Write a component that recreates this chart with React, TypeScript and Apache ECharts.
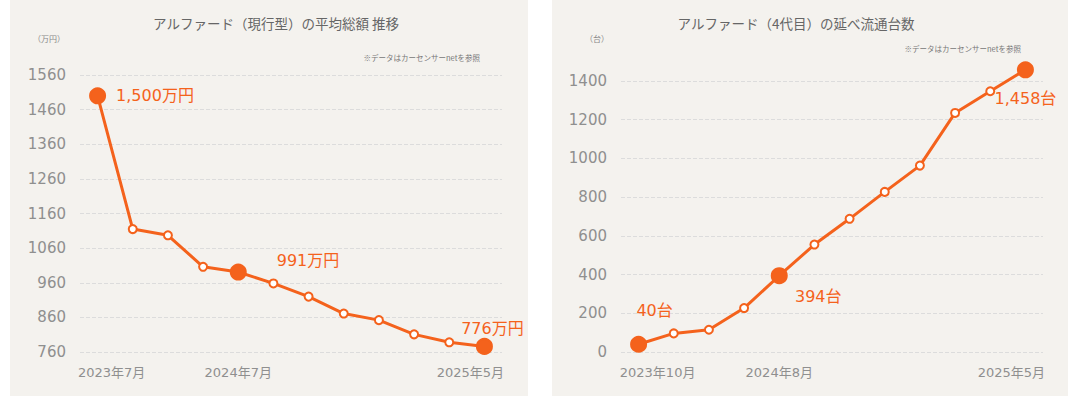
import React, { useEffect, useRef } from "react";
import * as echarts from "echarts";

// ---- Data ----
const priceCategories = [
  "2023年7月", "2023年10月", "2024年1月", "2024年4月", "2024年7月", "2024年8月",
  "2024年10月", "2024年12月", "2025年1月", "2025年3月", "2025年4月", "2025年5月",
];
const priceValues = [1500, 1115, 1097, 1006, 991, 958, 920, 871, 852, 811, 788, 776];
const priceHighlights = [0, 4, 11];
const priceHighlightLabels = ["1,500万円", "991万円", "776万円"];
const priceShownTicks = [0, 4, 11];
const priceAxisMin = 760;
const priceAxisMax = 1560;
const priceAxisStep = 100;

const countCategories = [
  "2023年10月", "2023年12月", "2024年2月", "2024年5月", "2024年8月", "2024年9月",
  "2024年10月", "2024年12月", "2025年1月", "2025年2月", "2025年4月", "2025年5月",
];
const countValues = [40, 96, 115, 227, 394, 555, 688, 827, 963, 1235, 1347, 1458];
const countHighlights = [0, 4, 11];
const countHighlightLabels = ["40台", "394台", "1,458台"];
const countShownTicks = [0, 4, 11];
const countAxisMax = 1400;
const countAxisStep = 200;

const ORANGE = "#f4621c";
const AXIS_TEXT = "#8f8f8f";
const FONT = '"DejaVu Sans", "Noto Sans CJK JP", sans-serif';
const JP_FONT = '"Noto Sans CJK JP", sans-serif';

const priceLabelStyles = [
  { position: "right", distance: 10 },
  { position: "right", distance: 30, offset: [0, -12] },
  { position: "top", distance: 1, offset: [8, 0] },
];
const countLabelStyles = [
  { position: "top", distance: 17, offset: [16, 0] },
  { position: "bottom", distance: 4, offset: [39, 0] },
  { position: "bottom", distance: 12, offset: [0, 0] },
];

function buildData(values: number[], highlights: number[], labels: string[], styles: any[]) {
  return values.map((v, i) => {
    const h = highlights.indexOf(i);
    if (h < 0) return v;
    return {
      value: v,
      symbolSize: 15,
      itemStyle: { color: ORANGE, borderColor: ORANGE },
      label: { show: true, formatter: labels[h], ...styles[h] },
    };
  });
}

function xAxisFor(gridIndex: number, data: string[], shown: number[], padFirst: number, padLast: number) {
  const last = data.length - 1;
  const base = { color: AXIS_TEXT, fontSize: 13, fontFamily: FONT };
  return {
    type: "category",
    gridIndex,
    data,
    boundaryGap: true,
    axisLine: { show: false },
    axisTick: { show: false },
    splitLine: { show: false },
    axisLabel: {
      ...base,
      margin: 14,
      interval: (index: number) => shown.includes(index),
      formatter: (value: string, index: number) =>
        index === 0 ? `{f|${value}}` : index === last ? `{l|${value}}` : `{m|${value}}`,
      rich: {
        f: { ...base, padding: [0, 0, 0, padFirst] },
        l: { ...base, padding: [0, padLast, 0, 0] },
        m: { ...base },
      },
    },
  };
}

const splitLine = { show: true, lineStyle: { color: "#dcdcdc", type: "dashed", width: 1 } };

export default function App() {
  const ref = useRef<HTMLDivElement>(null);
  useEffect(() => {
    if (!ref.current) return;
    const chart = echarts.init(ref.current, undefined, { renderer: "svg" });
    const seriesCommon = {
      type: "line",
      symbol: "circle",
      symbolSize: 8,
      showAllSymbol: true,
      lineStyle: { color: ORANGE, width: 3 },
      itemStyle: { color: "#ffffff", borderColor: ORANGE, borderWidth: 2 },
      label: { color: ORANGE, fontSize: 16, fontFamily: FONT },
      emphasis: { disabled: true },
      z: 3,
    };
    chart.setOption({
      animation: false,
      backgroundColor: "#ffffff",
      grid: [
        { left: 80, right: 578, top: 75, bottom: 44 },
        { left: 621, right: 37, top: 81, bottom: 44 },
      ],
      xAxis: [
        xAxisFor(0, priceCategories, priceShownTicks, 28, 28),
        xAxisFor(1, countCategories, countShownTicks, 38, 28),
      ],
      yAxis: [
        {
          type: "value", gridIndex: 0, position: "left", min: priceAxisMin, max: priceAxisMax,
          show: false, splitLine: { show: false },
        },
        {
          type: "value",
          gridIndex: 0,
          position: "left",
          min: 0,
          max: priceAxisMax - priceAxisMin,
          interval: priceAxisStep,
          axisLine: { show: false },
          axisTick: { show: false },
          axisLabel: {
            color: AXIS_TEXT,
            fontSize: 15,
            fontFamily: FONT,
            margin: 14,
            formatter: (v: number) => String(v + priceAxisMin),
          },
          splitLine,
        },
        {
          type: "value",
          gridIndex: 1,
          position: "left",
          min: 0,
          max: countAxisMax,
          interval: countAxisStep,
          axisLine: { show: false },
          axisTick: { show: false },
          axisLabel: {
            color: AXIS_TEXT, fontSize: 15, fontFamily: FONT, margin: 14,
            formatter: (v: number) => String(v),
          },
          splitLine,
        },
      ],
      series: [
        {
          ...seriesCommon,
          xAxisIndex: 0,
          yAxisIndex: 0,
          data: buildData(priceValues, priceHighlights, priceHighlightLabels, priceLabelStyles),
        },
        {
          ...seriesCommon,
          xAxisIndex: 1,
          yAxisIndex: 2,
          clip: false,
          data: buildData(countValues, countHighlights, countHighlightLabels, countLabelStyles),
        },
      ],
      graphic: [
        { type: "rect", z: -10, shape: { x: 10, y: 0, width: 518, height: 396 }, style: { fill: "#f4f2ee" } },
        { type: "rect", z: -10, shape: { x: 552, y: 0, width: 516, height: 396 }, style: { fill: "#f4f2ee" } },
        {
          type: "text", x: 276, y: 23,
          style: { text: "アルファード（現行型）の平均総額 推移", fill: "#666", font: `13.5px ${JP_FONT}`, align: "center", verticalAlign: "middle" },
        },
        {
          type: "text", x: 796, y: 23,
          style: { text: "アルファード（4代目）の延べ流通台数", fill: "#666", font: `13.5px ${JP_FONT}`, align: "center", verticalAlign: "middle" },
        },
        {
          type: "text", x: 49, y: 38,
          style: { text: "（万円）", fill: "#888", font: `8px ${JP_FONT}`, align: "center", verticalAlign: "middle" },
        },
        {
          type: "text", x: 597, y: 38,
          style: { text: "（台）", fill: "#888", font: `8px ${JP_FONT}`, align: "center", verticalAlign: "middle" },
        },
        {
          type: "text", x: 480, y: 57,
          style: { text: "※データはカーセンサーnetを参照", fill: "#777", font: `7.5px ${JP_FONT}`, align: "right", verticalAlign: "middle" },
        },
        {
          type: "text", x: 1021, y: 48,
          style: { text: "※データはカーセンサーnetを参照", fill: "#777", font: `7.5px ${JP_FONT}`, align: "right", verticalAlign: "middle" },
        },
      ],
    });
    return () => chart.dispose();
  }, []);
  return (
    <div
      ref={ref}
      style={{ position: "absolute", left: 0, top: 0, width: 1080, height: 396 }}
    />
  );
}
